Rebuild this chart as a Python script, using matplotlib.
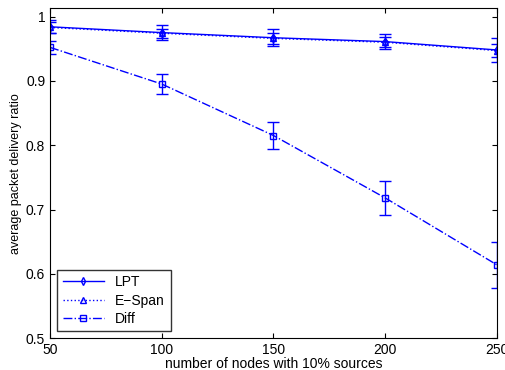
import numpy as np
import matplotlib.pyplot as plt
from matplotlib.lines import Line2D

plt.rcParams['font.family'] = ['Liberation Sans', 'DejaVu Sans']

nodes = [50, 100, 150, 200, 250]

lpt = [0.984, 0.975, 0.967, 0.961, 0.948]
lpt_err = [0.010, 0.012, 0.013, 0.012, 0.018]

espan = [0.983, 0.974, 0.966, 0.960, 0.947]
espan_err = [0.008, 0.007, 0.008, 0.008, 0.010]

diff = [0.952, 0.895, 0.815, 0.718, 0.614]
diff_err = [0.010, 0.016, 0.021, 0.026, 0.036]

labels = ['LPT', 'E\u2212Span', 'Diff']
styles = ['-', ':', '-.']
markers = ['d', '^', 's']

fig = plt.figure(figsize=(5.06, 3.70), dpi=100)
ax = fig.add_axes([0.099, 0.086, 0.883, 0.892])

blue = '#0000ff'
handles = []
for y, e, ls, mk, lab in zip([lpt, espan, diff], [lpt_err, espan_err, diff_err],
                             styles, markers, labels):
    ax.errorbar(nodes, y, yerr=e, color=blue, linestyle=ls, marker=mk,
                markersize=4.5, mfc='none', mew=1.0, capsize=4, lw=1.0)
    handles.append(Line2D([], [], color=blue, linestyle=ls, marker=mk,
                          markersize=4, mfc='none', lw=1.0))

ax.set_xlim(50, 250)
ax.set_ylim(0.5, 1.013)
ax.set_xticks(nodes)
ax.set_yticks([0.5, 0.6, 0.7, 0.8, 0.9, 1.0])
ax.set_yticklabels(['0.5', '0.6', '0.7', '0.8', '0.9', '1'])
ax.tick_params(direction='in', top=True, right=True, labelsize=10)
ax.set_xlabel('number of nodes with 10% sources', fontsize=10, labelpad=0)
ax.set_ylabel('average packet delivery ratio', fontsize=9, labelpad=3)

leg = ax.legend(handles, labels, loc='lower left', fontsize=10, fancybox=False,
                edgecolor='black', handlelength=3, borderaxespad=0.5,
                labelspacing=0.3)
leg.get_frame().set_linewidth(1.0)

fig.savefig('out.png', dpi=100)
